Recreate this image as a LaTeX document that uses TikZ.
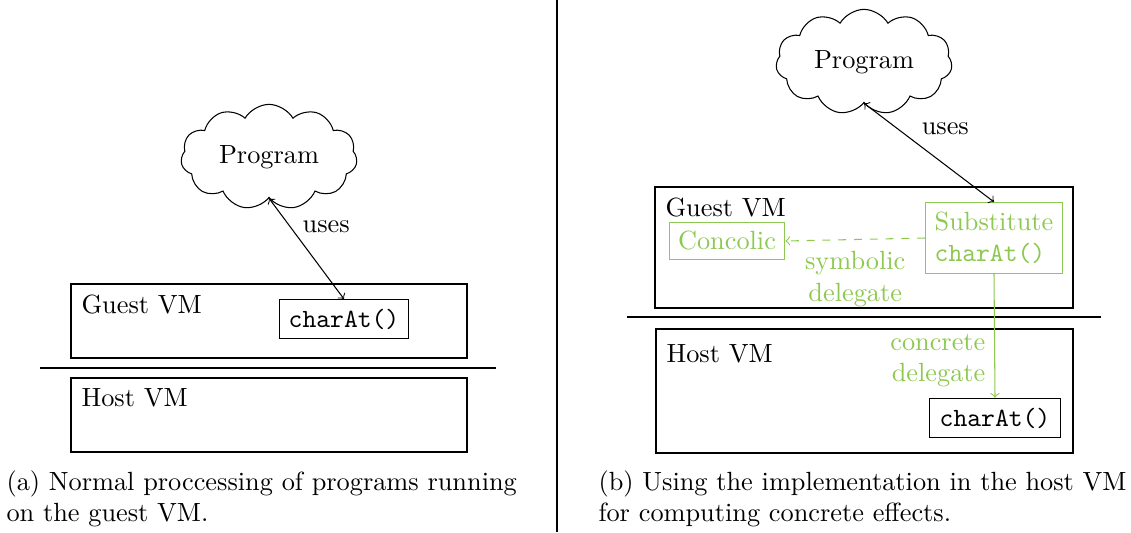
\documentclass[tikz,border=0pt]{standalone}
\usetikzlibrary{shapes.symbols,fit}
\definecolor{lgreen}{RGB}{141,200,80}
\begin{document}
\begin{tikzpicture}[x=0.38pt,y=-0.38pt,
  vmbox/.style={draw, inner sep=0pt},
  vmlabel/.style={anchor=north west, inner sep=4pt},
  fnbox/.style={draw, font=\ttfamily, inner sep=3.5pt, minimum height=14pt},
  gbox/.style={draw=lgreen, text=lgreen, inner sep=3pt},
  prog/.style={draw, cloud, cloud puffs=11, cloud puff arc=120, aspect=1.8,
    minimum width=67pt, minimum height=40pt, inner sep=0pt},
  conn/.style={<->},
  gconn/.style={->, draw=lgreen},
  glabel/.style={text=lgreen, align=center}
]
\useasboundingbox (0,0) rectangle (1131,532);
% ---------- left figure ----------
\node[prog] (progA) at (269,157) {Program};
\node[vmbox, fit={(71,284)(467,358)}] (guestA) {};
\node[vmlabel] at (guestA.north west) {Guest VM};
\node[fnbox, minimum width=49pt] (charA) at (344,319) {charAt()};
\draw (40,368) -- (496,368);
\node[vmbox, fit={(71,378)(467,452)}] (hostA) {};
\node[vmlabel] at (hostA.north west) {Host VM};
\draw[conn] (progA.south) -- node[pos=0.15, right=5pt, yshift=-5pt] {uses} (charA.north);
\node[anchor=west, align=left, inner sep=0pt] (capA) at (6,499)
  {(a) Normal proccessing of programs running\\on the guest VM.};
% divider
\draw (557,0) -- (557,532);
% ---------- right figure ----------
\node[prog] (progB) at (864,62) {Program};
\node[vmbox, fit={(655,187)(1073,308)}] (guestB) {};
\node[vmlabel] at (guestB.north west) {Guest VM};
\node[gbox, align=left, minimum width=52pt, minimum height=27pt] (subst) at (994,238)
  {Substitute\\\texttt{charAt()}};
\node[gbox, minimum width=44pt, minimum height=14pt] (conc) at (727,241) {Concolic};
\draw[gconn, dashed] (subst.west) -- node[midway, below=1pt, glabel] {symbolic\\delegate} (conc.east);
\draw (627,317) -- (1101,317);
\node[vmbox, fit={(656,329)(1073,453)}] (hostB) {};
\node[vmlabel, yshift=-2pt] at (hostB.north west) {Host VM};
\node[fnbox, minimum width=50pt, minimum height=15pt] (charB) at (995,418) {charAt()};
\draw[gconn] (subst.south) -- node[pos=0.7, left, glabel, align=right] {concrete\\delegate} (charB.north);
\draw[conn] (progB.south) -- node[pos=0.15, right=11pt, yshift=-4pt] {uses} (subst.north);
\node[anchor=west, align=left, inner sep=0pt] (capB) at (598,499)
  {(b) Using the implementation in the host VM\\for computing concrete effects.};
\end{tikzpicture}
\end{document}
